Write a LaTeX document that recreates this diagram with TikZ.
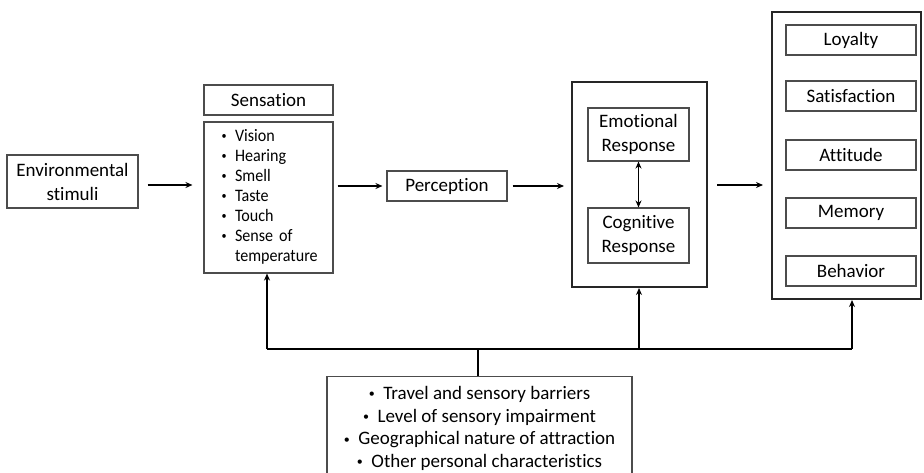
\documentclass[tikz,border=0pt]{standalone}
\usepackage{fontspec}
\setmainfont{Carlito}[Ligatures=NoCommon]
\newfontfamily\listfont{Carlito}[Ligatures=NoCommon, FakeStretch=0.92]
\usetikzlibrary{arrows.meta,calc}
\newcommand{\smbul}{\raisebox{1.8pt}{\fontsize{12}{12}\selectfont\textbullet}}
\newcommand{\lsbul}{\raisebox{1.6pt}{\fontsize{11}{11}\selectfont\textbullet}}
\tikzset{
  box/.style={draw=black!70, line width=1.1pt, inner sep=0pt, font=\fontsize{19}{22}\selectfont, align=center},
  bigbox/.style={draw=black!85, line width=2pt, inner sep=0pt},
  arr/.style={line width=1.4pt, -{Stealth[length=7pt,width=6pt]}},
  dblarr/.style={line width=1.4pt, {Stealth[length=7pt,width=6pt]}-{Stealth[length=7pt,width=6pt]}},
  fline/.style={line width=1.4pt}
}
\begin{document}
\begin{tikzpicture}[x=1pt,y=-1pt]
\useasboundingbox (0,0) rectangle (924,472);
\fill[white] (0,0) rectangle (924,472);
% left
\node[box, minimum width=131pt, minimum height=53pt, font=\fontsize{19}{24}\selectfont] (env) at (72.5,181.5) {Environmental\\stimuli};
\node[box, minimum width=129pt, minimum height=30pt] (sensT) at (268.5,100) {Sensation};
\node[box, minimum width=129pt, minimum height=151pt, text width=110pt, inner xsep=9.5pt, align=left, font=\listfont\fontsize{17.5}{20}\selectfont] (sensL) at (268.5,197.5) {%
  \hspace*{8pt}\raisebox{-1pt}{\begin{tabular}{@{}l@{\hspace{8.5pt}}l@{}}
  \lsbul & Vision\\
  \lsbul & Hearing\\
  \lsbul & Smell\\
  \lsbul & Taste\\
  \lsbul & Touch\\
  \lsbul & Sense of\\
   & temperature
  \end{tabular}}};
\node[box, minimum width=120pt, minimum height=30pt] (perc) at (447,186) {Perception};
% responses
\node[bigbox, minimum width=135pt, minimum height=205pt] (resp) at (639.5,184.5) {};
\node[box, minimum width=101pt, minimum height=53pt, font=\fontsize{19}{24}\selectfont] (emo) at (638.5,134.5) {Emotional\\Response};
\node[box, minimum width=101pt, minimum height=55pt, font=\fontsize{19}{24}\selectfont] (cog) at (638.5,235.5) {Cognitive\\Response};
% outcomes
\node[bigbox, minimum width=149pt, minimum height=287pt] (out) at (846.5,155.5) {};
\node[box, minimum width=130pt, minimum height=30pt] (loy) at (851,40) {Loyalty};
\node[box, minimum width=130pt, minimum height=30pt] (sat) at (851,96) {Satisfaction};
\node[box, minimum width=130pt, minimum height=30pt] (att) at (851,155) {Attitude};
\node[box, minimum width=130pt, minimum height=30pt] (mem) at (851,213) {Memory};
\node[box, minimum width=130pt, minimum height=30pt] (beh) at (851,271) {Behavior};
% bottom
\node[box, anchor=north, minimum width=305pt, minimum height=104pt, font=\fontsize{19}{22.6}\selectfont] (fac) at (479.5,376) {%
  \smbul\ \ Travel and sensory barriers\\
  \smbul\ \ Level of sensory impairment\\
  \smbul\ \ Geographical nature of attraction\\
  \smbul\ \ Other personal characteristics};
% coordinates
\coordinate (ya) at (0,185);
\coordinate (yb) at (0,186);
\coordinate (yf) at (0,349);
\coordinate (xl) at (267,0);
\coordinate (xm) at (639,0);
\coordinate (xr) at (852,0);
\coordinate (xs) at (478,0);
% arrows
\draw[arr, shorten <=9pt, shorten >=11pt] (env.east |- ya) -- (sensL.west |- ya);
\draw[arr, shorten <=4pt, shorten >=4pt] (sensL.east |- yb) -- (perc.west |- yb);
\draw[arr, shorten <=5pt, shorten >=7pt] (perc.east |- yb) -- (resp.west |- yb);
\draw[dblarr] (emo.south) -- (cog.north);
\draw[arr, shorten <=9pt, shorten >=8pt] (resp.east |- ya) -- (out.west |- ya);
% feedback
\draw[fline] (xs |- fac.north) -- (xs |- yf);
\draw[fline] (xl |- yf) -- (xr |- yf);
\draw[arr] (xl |- yf) -- (xl |- sensL.south);
\draw[arr] (xm |- yf) -- (xm |- resp.south);
\draw[arr] (xr |- yf) -- (xr |- out.south);
\end{tikzpicture}
\end{document}
